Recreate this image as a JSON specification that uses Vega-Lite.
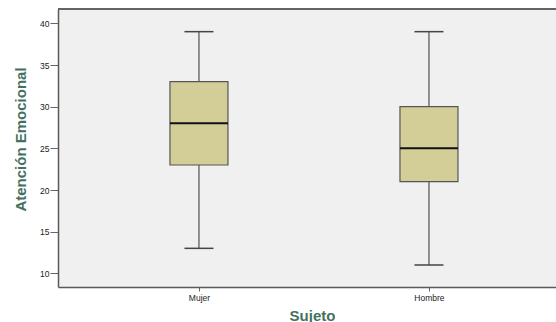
{
  "$schema": "https://vega.github.io/schema/vega-lite/v6.json",
  "autosize": {"type": "none"},
  "width": 498,
  "height": 278,
  "padding": {"left": 58, "top": 9, "right": 0, "bottom": 35},
  "background": "#ffffff",
  "config": {
    "view": {"fill": "#f0f0f0", "stroke": null},
    "font": "Liberation Sans",
    "axis": {
      "grid": false,
      "domain": true,
      "domainColor": "#5a5a5a",
      "domainWidth": 1.5,
      "tickColor": "#666666",
      "labelColor": "#222222",
      "labelFont": "Liberation Sans",
      "labelFontSize": 8.5,
      "titleFont": "Liberation Sans",
      "titleFontSize": 15,
      "titleFontWeight": "bold",
      "titleColor": "#45705f"
    }
  },
  "data": {
    "values": [
      {"sujeto": "Mujer", "min": 13, "q1": 23, "median": 28, "q3": 33, "max": 39},
      {"sujeto": "Hombre", "min": 11, "q1": 21, "median": 25, "q3": 30, "max": 39}
    ]
  },
  "layer": [
    {
      "encoding": {
        "x": {
          "field": "sujeto",
          "type": "nominal",
          "sort": ["Mujer", "Hombre"],
          "scale": {"type": "point", "padding": 0.5826, "align": 0.526},
          "axis": {
            "title": "Sujeto",
            "labelAngle": 0,
            "tickSize": 4,
            "labelPadding": 2,
            "titleX": 254,
            "titleY": 33,
            "titleBaseline": "alphabetic"
          }
        }
      },
      "layer": [
        {
          "mark": {"type": "rule", "color": "#505050", "strokeWidth": 1.2},
          "encoding": {
            "y": {
              "field": "min",
              "type": "quantitative",
              "scale": {"domain": [8.36, 41.72], "nice": false, "zero": false},
              "axis": {
                "title": "Atención Emocional",
                "values": [10, 15, 20, 25, 30, 35, 40],
                "tickSize": 8,
                "labelPadding": 1,
                "titleAngle": -90,
                "titleX": -33,
                "titleY": 130,
                "titleAlign": "center",
                "titleBaseline": "alphabetic"
              }
            },
            "y2": {"field": "max"}
          }
        },
        {
          "mark": {"type": "bar", "size": 58, "fill": "#d3ce98", "stroke": "#555555", "strokeWidth": 1.2},
          "encoding": {
            "y": {"field": "q1", "type": "quantitative"},
            "y2": {"field": "q3"}
          }
        },
        {
          "mark": {"type": "tick", "size": 58, "thickness": 2, "color": "#111111", "opacity": 1},
          "encoding": {"y": {"field": "median", "type": "quantitative"}}
        },
        {
          "mark": {"type": "tick", "size": 29, "thickness": 1.5, "color": "#444444", "opacity": 1},
          "encoding": {"y": {"field": "min", "type": "quantitative"}}
        },
        {
          "mark": {"type": "tick", "size": 29, "thickness": 1.5, "color": "#444444", "opacity": 1},
          "encoding": {"y": {"field": "max", "type": "quantitative"}}
        }
      ]
    },
    {
      "mark": {"type": "rule", "color": "#5a5a5a", "strokeWidth": 1.5},
      "encoding": {"y": {"datum": 41.72, "type": "quantitative"}}
    }
  ]
}
